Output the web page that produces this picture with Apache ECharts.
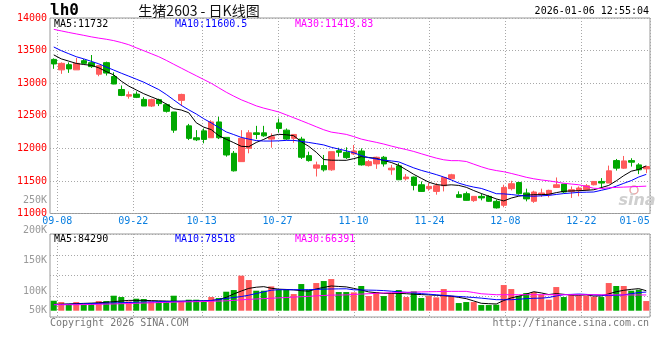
<!DOCTYPE html>
<html><head><meta charset="utf-8">
<script src="https://cdn.jsdelivr.net/npm/echarts@6/dist/echarts.min.js"></script>
<style>html,body{margin:0;padding:0;background:#fff}#c{width:660px;height:360px}</style>
</head><body><div id="c"></div>
<script>
// trading days used for the date scale (labels and vertical grid lines)
const dates = ['09-08','09-09','09-10','09-11','09-12','09-15','09-16','09-17','09-18','09-19','09-22','09-23','09-24','09-25','09-26','09-29','09-30',
'10-09','10-10','10-13','10-14','10-15','10-16','10-17','10-20','10-21','10-22','10-23','10-24','10-27','10-28','10-29','10-30','10-31',
'11-03','11-04','11-05','11-06','11-07','11-10','11-11','11-12','11-13','11-14','11-17','11-18','11-19','11-20','11-21','11-24','11-25','11-26','11-27','11-28',
'12-01','12-02','12-03','12-04','12-05','12-08','12-09','12-10','12-11','12-12','12-15','12-16','12-17','12-18','12-19','12-22','12-23','12-24','12-25','12-26','12-29','12-30','12-31',
'01-05','01-06'];
// candle slots (80 candles, one more session before 09-08)
const candleDates = ['09-05'].concat(dates);
const labelDates = ['09-08','09-22','10-13','10-27','11-10','11-24','12-08','12-22','01-05'];
const gridDates = ['09-08','09-22','10-13','10-27','11-10','11-24','12-08','12-22'];

const open = [13365,13204,13284,13204,13345,13315,13137,13315,13102,12903,12801,12832,12751,12649,12747,12670,12558,12736,12345,12162,
12268,12162,12405,12168,11924,11796,12000,12238,12238,12142,12390,12279,12153,12142,11888,11696,11735,11670,11964,11939,
11914,11959,11735,11761,11863,11670,11731,11533,11559,11441,11381,11339,11426,11533,11289,11304,11198,11263,11263,11187,
11126,11381,11476,11315,11187,11289,11289,11400,11452,11339,11350,11365,11441,11492,11467,11812,11696,11812,11746,11685];
const close = [13295,13304,13219,13304,13304,13254,13269,13155,12987,12812,12823,12782,12649,12747,12686,12568,12279,12827,12153,12131,
12137,12405,12162,11898,11655,12153,12238,12213,12192,12177,12305,12142,12213,11863,11812,11746,11670,11949,11939,11857,
11959,11746,11796,11863,11761,11696,11518,11559,11431,11339,11416,11426,11553,11594,11248,11202,11263,11239,11187,11086,
11400,11457,11304,11224,11330,11315,11355,11441,11330,11365,11391,11426,11492,11467,11655,11696,11807,11787,11670,11720];
const low = [13220,13143,13158,13204,13295,13234,13106,13117,12984,12801,12762,12771,12649,12634,12649,12549,12238,12649,12127,12112,
12077,12162,12142,11872,11644,11796,11924,12142,12177,12010,12244,12127,12086,11837,11796,11568,11644,11655,11872,11837,
11898,11735,11720,11685,11720,11594,11518,11507,11355,11330,11350,11289,11339,11533,11239,11198,11178,11202,11178,11076,
11095,11355,11289,11187,11163,11254,11248,11391,11315,11239,11264,11350,11431,11391,11467,11659,11685,11720,11604,11620];
const high = [13380,13319,13319,13386,13371,13432,13280,13330,13167,12964,12873,12873,12786,12762,12762,12686,12558,12838,12375,12279,
12305,12431,12482,12168,11959,12279,12279,12345,12345,12229,12457,12305,12213,12177,11949,11796,11898,11949,12009,12016,
12051,12000,11822,11872,11883,11746,11772,11604,11568,11492,11467,11467,11553,11609,11340,11335,11263,11304,11280,11213,
11441,11502,11476,11381,11350,11381,11365,11553,11452,11416,11416,11452,11492,11543,11735,11837,11883,11848,11772,11720];

const ma5 = [13434,13373,13338,13303,13286,13274,13236,13178,13127,13031,
12955,12896,12838,12791,12745,12680,12608,12588,12546,12392,
12325,12287,12195,12139,12087,12031,12025,12090,12137,12192,
12215,12208,12194,12101,12031,11940,11828,11818,11817,11816,
11842,11872,11860,11847,11812,11783,11738,11671,11601,11540,
11481,11445,11431,11440,11431,11402,11352,11307,11266,11224,
11193,11237,11266,11282,11289,11289,11295,11320,11341,11346,
11350,11356,11364,11397,11431,11501,11581,11649,11676,11732];
const ma10 = [13555,13499,13452,13406,13373,13335,13297,13248,13201,13153,
13108,13062,13015,12958,12902,12827,12743,12660,12591,12527,
12454,12390,12320,12252,12211,12168,12142,12119,12112,12112,
12115,12122,12122,12107,12090,12072,12052,12016,11989,11962,
11932,11889,11856,11836,11819,11807,11792,11746,11700,11662,
11630,11597,11560,11515,11466,11432,11405,11385,11346,11304,
11301,11291,11278,11268,11265,11271,11278,11292,11306,11315,
11324,11327,11330,11356,11382,11419,11463,11505,11560,11600.5];
const ma30 = [13826,13802,13778,13756,13734,13711,13691,13674,13653,13624,
13590,13543,13498,13452,13406,13350,13290,13231,13172,13114,
13056,12998,12929,12861,12801,12745,12699,12652,12617,12588,
12558,12514,12469,12424,12378,12331,12285,12249,12232,12214,
12180,12142,12116,12092,12066,12035,12007,11981,11952,11917,
11883,11850,11824,11811,11811,11798,11757,11717,11682,11659,
11641,11615,11586,11556,11533,11515,11501,11483,11464,11452,
11441,11416,11387,11382,11395,11400,11405,11410,11415,11419.83];

// volume in thousands
const volume = [42.1,36.5,28.1,36.5,25.3,32.3,40.7,40.7,63.2,57.6,39.3,50.6,49.2,39.3,39.3,39.3,63.2,39.3,46.4,46.4,
39.3,57.6,53.4,80.1,87.1,147.5,129.2,84.3,84.3,102.5,88.5,88.5,70.2,112.4,88.5,116.6,125.0,133.4,78.7,78.7,
77.3,104.0,61.8,78.7,61.8,74.5,87.1,57.6,81.5,53.4,61.8,56.2,91.3,63.2,32.3,36.5,36.5,23.9,23.9,25.3,
108.2,91.3,63.2,74.5,78.7,67.4,46.4,99.7,57.6,66.0,63.2,63.2,59.0,57.6,116.6,104.0,104.0,84.3,88.5,40.7];
const volMa5 = [26.7,27.4,28.7,29.8,30.9,31.9,33.4,35.4,38.1,41.0,
43.5,43.5,43.5,42.6,41.6,40.7,39.8,39.8,40.3,41.0,
41.6,42.7,46.9,56.2,70.7,82.9,94.1,99.0,101.4,94.7,
90.7,89.5,87.7,84.4,82.3,91.6,98.3,104.2,102.2,100.3,
94.1,87.1,79.2,75.9,73.0,73.0,73.0,71.6,69.4,68.0,
66.6,65.0,63.2,61.0,56.2,50.7,41.0,31.3,29.6,28.4,
43,54,61,70,80,75,68,72,69,66,
65,67,62,62,71,80,86,90,93,84.29];
const volMa10 = [25.7,26.4,27.1,28.0,28.8,29.8,30.8,31.7,32.7,33.7,
34.6,35.5,36.5,37.2,37.9,38.5,39.1,39.8,40.3,41.0,
41.6,43.1,47.3,51.7,55.5,59.7,65.3,72.3,79.4,86.4,
88.5,88.5,88.5,88.5,88.6,89.8,90.9,91.6,92.0,92.3,
88.1,87.4,86.8,86.1,84.8,82.3,79.8,77.3,74.7,72.1,
69.7,67.0,64.5,62.2,59.9,57.8,55.6,53.0,49.7,46.5,
46.4,46.4,48.3,50.9,52.4,53.0,55.6,62.1,67.7,68.7,
70.2,68.7,67.0,65.5,63.8,64.9,66.6,71.6,76.6,78.518];
const volMa30 = [25.3,25.3,25.3,25.3,25.8,26.4,27.1,27.7,28.5,29.5,
30.3,31.3,32.3,33.3,34.3,35.1,36.1,36.9,37.5,38.2,
38.8,39.6,40.7,41.7,43.5,45.9,47.8,49.3,50.8,52.5,
54.1,55.6,57.3,59.0,60.5,62.6,64.3,65.6,66.1,66.6,
68.5,70.1,71.6,73.3,74.7,75.7,76.7,77.5,78.7,79.2,
79.9,80.5,81.2,81.5,81.5,81.5,76.6,71.4,69.4,67.4,
67.4,67.4,67.4,67.4,67.4,67.4,67.4,67.4,67.4,67.4,
67.4,67.4,67.4,67.4,66.8,66.6,66.5,66.4,66.4,66.391];

const priceMin = 11000, priceMax = 14000, priceStep = 500;
const volLabelMin = 50, volLabelMax = 250, volLabelStep = 50;
const priceMaText = ['MA5:11732', 'MA10:11600.5', 'MA30:11419.83'];
const volMaText = ['MA5:84290', 'MA10:78518', 'MA30:66391'];

const RED = '#ff5b5b', GREEN = '#00a800', BLUE = '#0000ff', MAG = '#ff00ff';
const MONO = '"DejaVu Sans Mono","Liberation Mono",monospace';
const GRIDC = '#a8a8a8';

const candles = candleDates.map((d, i) => [open[i], close[i], low[i], high[i]]);
const volBars = volume.map((v, i) => ({ value: v, itemStyle: { color: close[i] >= open[i] ? RED : GREEN } }));

const chart = echarts.init(document.getElementById('c'), null, { renderer: 'canvas' });

const splitX = {
  show: true,
  interval: (idx) => idx > 0 && gridDates.includes(dates[idx - 1]),
  lineStyle: { color: GRIDC, type: [1, 2], width: 1 }
};

const dateAxis = (gi, showLabel) => ({
  type: 'category', gridIndex: gi, data: dates, boundaryGap: true,
  axisLine: { show: false }, axisTick: { show: false },
  splitLine: splitX,
  axisLabel: showLabel ? {
    show: true, margin: 3,
    interval: (idx, val) => labelDates.includes(val),
    formatter: (v) => v === '01-05' ? '{b|' + v + '}' : '{a|' + v + '}',
    rich: {
      a: { fontFamily: MONO, fontSize: 10, color: '#0a7fe0', padding: [0, 0, 0, 7] },
      b: { fontFamily: MONO, fontSize: 10, color: '#0a7fe0', padding: [0, 8, 0, 0] }
    }
  } : { show: false }
});
const slotAxis = (gi) => ({ type: 'category', gridIndex: gi, data: candleDates, boundaryGap: true, show: false });

const mkLine = (name, data, color, xi, yi) => ({
  name, type: 'line', data, xAxisIndex: xi, yAxisIndex: yi, symbol: 'none',
  lineStyle: { color, width: 1 }, itemStyle: { color }, silent: true, animation: false, z: 5
});

const txt = (text, x, y, fill, align, font) => ({
  type: 'text', x, y, silent: true, z: 100,
  style: { text, fill, align: align || 'left', verticalAlign: 'middle', font: font || ('10px ' + MONO) }
});

chart.setOption({
  animation: false,
  backgroundColor: '#fff',
  grid: [
    { left: 50, right: 10, top: 18, height: 195.5, show: true, borderColor: '#999', borderWidth: 1, backgroundColor: 'transparent' },
    { left: 50, right: 10, top: 234, height: 83, show: true, borderColor: '#999', borderWidth: 1, backgroundColor: 'transparent' },
    { left: 50, right: 10, top: 200.7, height: 120.3, show: false }
  ],
  xAxis: [
    dateAxis(0, true),     // 0
    slotAxis(0),           // 1
    dateAxis(1, false),    // 2
    slotAxis(1),           // 3
    { type: 'category', gridIndex: 2, data: dates, show: false } // 4
  ],
  yAxis: [
    { type: 'value', gridIndex: 0, min: priceMin, max: priceMax, interval: priceStep,
      axisLine: { show: false }, axisTick: { show: false },
      axisLabel: { color: '#ff0000', fontFamily: MONO, fontSize: 10, margin: 3, formatter: (v) => String(v) },
      splitLine: { show: true, lineStyle: { color: GRIDC, type: [1, 2] } } },
    { type: 'value', gridIndex: 1, min: -26.5, max: 323.2,
      axisLine: { show: false }, axisTick: { show: false }, axisLabel: { show: false }, splitLine: { show: false } },
    { type: 'value', gridIndex: 1, min: 0, max: 4, interval: 1, position: 'right',
      axisLine: { show: false }, axisTick: { show: false }, axisLabel: { show: false },
      splitLine: { show: true, lineStyle: { color: GRIDC, type: [1, 2] } } },
    { type: 'value', gridIndex: 2, min: volLabelMin, max: volLabelMax, interval: volLabelStep,
      axisLine: { show: false }, axisTick: { show: false }, splitLine: { show: false },
      axisLabel: { margin: 3,
        formatter: (v) => v === volLabelMin ? '{s|' + v + 'K}' : '{n|' + v + 'K}',
        rich: {
          n: { fontFamily: MONO, fontSize: 10, color: '#999' },
          s: { fontFamily: MONO, fontSize: 10, color: '#999', padding: [0, 0, 21, 0] }
        } } }
  ],
  series: [
    { name: 'K', type: 'candlestick', xAxisIndex: 1, yAxisIndex: 0, data: candles, barWidth: 6,
      itemStyle: { color: RED, color0: GREEN, borderColor: RED, borderColor0: GREEN, borderWidth: 1 }, z: 3 },
    mkLine('MA5', ma5, '#000', 1, 0),
    mkLine('MA10', ma10, BLUE, 1, 0),
    mkLine('MA30', ma30, MAG, 1, 0),
    { name: 'VOL', type: 'bar', xAxisIndex: 3, yAxisIndex: 1, data: volBars, barWidth: 6, z: 3 },
    mkLine('VMA5', volMa5, '#000', 3, 1),
    mkLine('VMA10', volMa10, BLUE, 3, 1),
    mkLine('VMA30', volMa30, MAG, 3, 1),
    { type: 'line', xAxisIndex: 4, yAxisIndex: 3, data: [], silent: true }
  ],
  graphic: [
    txt('lh0', 50, 11, '#000', 'left', 'bold 16px ' + MONO),
    txt('生猪2603 - 日K线图', 199, 11, '#111', 'center', '14px "Noto Sans CJK SC"'),
    txt('2026-01-06 12:55:04', 649, 11, '#000', 'right'),
    txt(priceMaText[0], 54, 24, '#000'),
    txt(priceMaText[1], 175, 24, BLUE),
    txt(priceMaText[2], 295, 24, MAG),
    txt(volMaText[0], 54, 239, '#000'),
    txt(volMaText[1], 175, 239, BLUE),
    txt(volMaText[2], 295, 239, MAG),
    txt('Copyright 2026 SINA.COM', 50, 323, '#777'),
    txt('http://finance.sina.com.cn', 649, 323, '#777', 'right'),
    { type: 'circle', shape: { cx: 634, cy: 190, r: 4 }, style: { fill: 'none', stroke: '#e8a8a8', lineWidth: 1.5 }, silent: true, z: 1 },
    { type: 'text', x: 637, y: 201, silent: true, z: 1,
      style: { text: 'sina', fill: '#cfcfcf', align: 'center', verticalAlign: 'middle', font: 'italic bold 16px "DejaVu Sans"' } }
  ]
});
</script></body></html>
